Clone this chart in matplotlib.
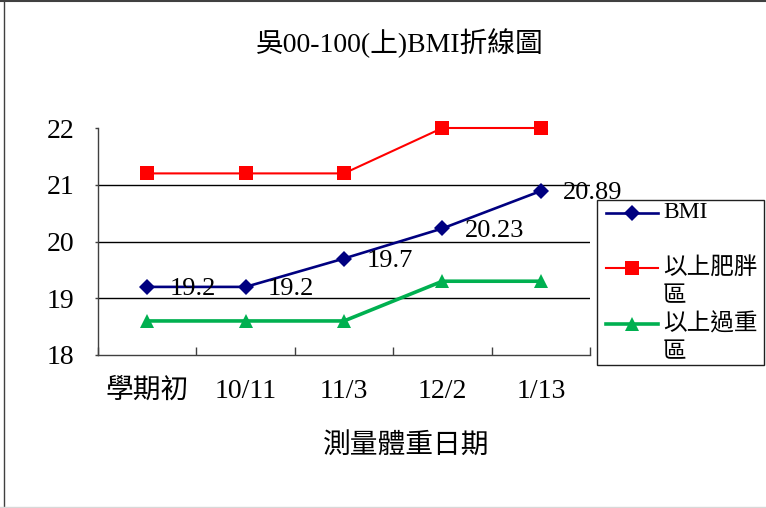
import matplotlib
matplotlib.use("Agg")
import matplotlib.pyplot as plt
from matplotlib.lines import Line2D
from matplotlib.patches import Rectangle

plt.rcParams['font.family'] = ['Liberation Serif', 'Noto Sans CJK TC', 'DejaVu Sans']

title = "吳00-100(上)BMI折線圖"
xlabel = "測量體重日期"
categories = ["學期初", "10/11", "11/3", "12/2", "1/13"]
bmi = [19.2, 19.2, 19.7, 20.23, 20.89]
obese = [21.2, 21.2, 21.2, 22, 22]
overweight = [18.6, 18.6, 18.6, 19.3, 19.3]
yticks = [18, 19, 20, 21, 22]
series_names = ["BMI", "以上肥胖\n區", "以上過重\n區"]

W, H = 766, 508
fig = plt.figure(figsize=(W / 100, H / 100), dpi=100)

def fx(x):
    return x / W

def fy(y):
    return 1 - y / H

ax = fig.add_axes([fx(98), fy(355), (590 - 98) / W, (355 - 128) / H])
x = list(range(len(categories)))

styles = [
    dict(color="#000080", marker="D", markersize=8.5, lw=1.9),
    dict(color="#FF0000", marker="s", markersize=10.5, lw=1.5),
    dict(color="#00B050", marker="^", markersize=10, lw=2.6),
]
data = [bmi, obese, overweight]
for vals, st in zip(data, styles):
    ax.plot(x, vals, color=st["color"], marker=st["marker"], markersize=st["markersize"],
            lw=st["lw"], markeredgewidth=0, zorder=3, clip_on=False)

for xi, v in zip(x, bmi):
    ax.annotate(f"{v:g}", (xi, v), xytext=(16, -1.5), textcoords="offset points",
                ha="left", va="center", fontsize=19, color="black", zorder=4)

ax.set_xlim(-0.5, len(categories) - 0.5)
ax.set_ylim(18, 22)
ax.set_yticks(yticks)
ax.set_yticklabels([str(t) for t in yticks], fontsize=20)
ax.set_xticks(x)
ax.set_xticklabels(categories, fontsize=20)
ax.set_xticks([i - 0.5 for i in range(len(categories) + 1)], minor=True)
ax.tick_params(axis="x", which="major", length=0, pad=17)
ax.tick_params(axis="x", which="minor", direction="in", length=6, width=1, color="#404040")
ax.tick_params(axis="y", which="major", direction="out", length=2, width=1, pad=15, color="#404040")
for t in [19, 20, 21]:
    ax.axhline(t, color="black", lw=1, zorder=1)
for s in ["top", "right"]:
    ax.spines[s].set_visible(False)
for s in ["left", "bottom"]:
    ax.spines[s].set_color("#404040")
    ax.spines[s].set_linewidth(1)

fig.text(fx(400), fy(43), title, ha="center", va="center", fontsize=20)
fig.text(fx(406), fy(447), xlabel, ha="center", va="center", fontsize=20)

# legend box
fig.add_artist(Rectangle((fx(597), fy(365)), (764 - 597) / W, (365 - 200) / H,
                         transform=fig.transFigure, fill=False, edgecolor="#202020", lw=1))
ys = [213, 268, 324]
for name, st, yy in zip(series_names, styles, ys):
    fig.add_artist(Line2D([fx(606), fx(658)], [fy(yy), fy(yy)], transform=fig.transFigure,
                          color=st["color"], lw=st["lw"]))
    fig.add_artist(Line2D([fx(632)], [fy(yy)], transform=fig.transFigure, color=st["color"],
                          marker=st["marker"], markersize=st["markersize"], markeredgewidth=0, lw=0))
    lines = name.split("\n")
    for k, ln in enumerate(lines):
        fig.text(fx(663), fy(yy + 29 * k), ln, ha="left", va="center", fontsize=17)

# figure border
fig.add_artist(Line2D([fx(0), fx(766)], [fy(1), fy(1)], transform=fig.transFigure, color="#404040", lw=1.5))
fig.add_artist(Line2D([fx(3.5), fx(3.5)], [fy(0), fy(508)], transform=fig.transFigure, color="#404040", lw=1))
fig.add_artist(Line2D([fx(0), fx(766)], [fy(506.5), fy(506.5)], transform=fig.transFigure, color="#d8d8d8", lw=1))

fig.savefig("out.png", dpi=100)
